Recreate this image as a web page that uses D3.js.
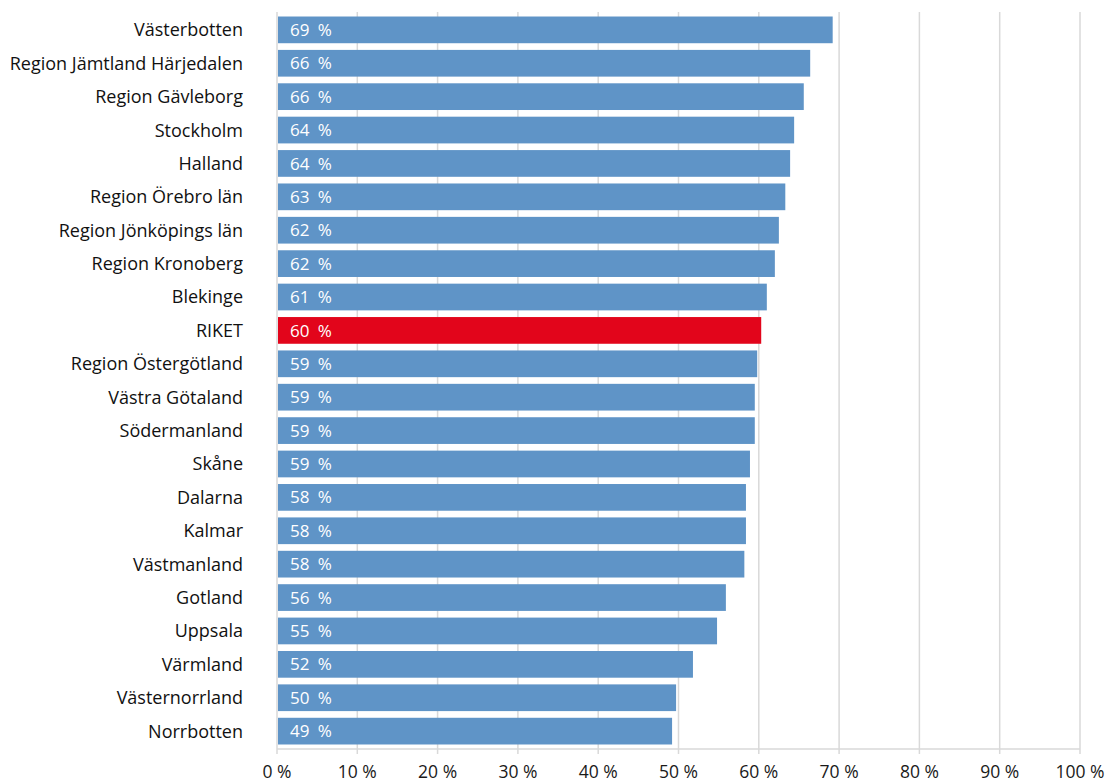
<!DOCTYPE html>
<html>
<head>
<meta charset="utf-8">
<script src="https://cdn.jsdelivr.net/npm/d3@7"></script>
<style>
  body { margin: 0; background: #fff; }
  text { font-family: "Open Sans", Lato, sans-serif; }
</style>
</head>
<body>
<svg width="1106" height="783"></svg>
<script>
// regions, top to bottom
var regions = ["Västerbotten", "Region Jämtland Härjedalen", "Region Gävleborg", "Stockholm",
  "Halland", "Region Örebro län", "Region Jönköpings län", "Region Kronoberg", "Blekinge",
  "RIKET", "Region Östergötland", "Västra Götaland", "Södermanland", "Skåne", "Dalarna",
  "Kalmar", "Västmanland", "Gotland", "Uppsala", "Värmland", "Västernorrland", "Norrbotten"];

// bar lengths
var shares = [69.2, 66.4, 65.6, 64.4, 63.9, 63.3, 62.5, 62.0, 61.0, 60.3, 59.8, 59.5, 59.5,
  58.9, 58.4, 58.4, 58.2, 55.9, 54.8, 51.8, 49.7, 49.2];

// printed labels
var shareLabels = [69, 66, 66, 64, 64, 63, 62, 62, 61, 60, 59, 59, 59, 59, 58, 58, 58, 56, 55, 52, 50, 49];

var highlight = "RIKET";
var xTicks = [0, 10, 20, 30, 40, 50, 60, 70, 80, 90, 100];

var svg = d3.select("svg"),
  margin = { top: 12, right: 26, bottom: 34, left: 277 },
  width = +svg.attr("width") - margin.left - margin.right,
  height = +svg.attr("height") - margin.top - margin.bottom,
  g = svg.append("g").attr("transform", "translate(" + margin.left + "," + margin.top + ")");

var x = d3.scaleLinear().domain([0, 100]).range([0, width]);
var y = d3.scaleBand().domain(regions).range([0, height]).paddingInner(0.2).paddingOuter(0.135);

// gridlines
g.selectAll(".grid")
  .data(xTicks)
  .enter().append("line")
  .attr("x1", function(d) { return x(d); })
  .attr("x2", function(d) { return x(d); })
  .attr("y1", 0)
  .attr("y2", height + 5)
  .attr("stroke", "#d9d9d9")
  .attr("stroke-width", 1.5);

// x axis
g.append("line")
  .attr("x1", 0).attr("x2", width)
  .attr("y1", height).attr("y2", height)
  .attr("stroke", "#d9d9d9").attr("stroke-width", 1.5);

g.selectAll(".tick-label")
  .data(xTicks)
  .enter().append("text")
  .attr("x", function(d) { return x(d); })
  .attr("y", height + 29)
  .attr("text-anchor", "middle")
  .attr("font-size", 17.5)
  .attr("fill", "#1a1a1a")
  .text(function(d) { return d + " %"; });

// bars
g.selectAll(".bar")
  .data(regions)
  .enter().append("rect")
  .attr("x", 1)
  .attr("y", function(d) { return y(d); })
  .attr("width", function(d, i) { return x(shares[i]) - 1; })
  .attr("height", y.bandwidth())
  .attr("fill", function(d) { return d === highlight ? "#e2051b" : "#5f94c7"; });

// value labels
g.selectAll(".val")
  .data(regions)
  .enter().append("text")
  .attr("x", 13)
  .attr("y", function(d) { return y(d) + y.bandwidth() / 2; })
  .attr("dy", "0.36em")
  .attr("font-size", 17)
  .attr("word-spacing", 4)
  .attr("fill", "#fff")
  .text(function(d, i) { return shareLabels[i] + " %"; });

// category labels
g.selectAll(".cat")
  .data(regions)
  .enter().append("text")
  .attr("x", -34)
  .attr("y", function(d) { return y(d) + y.bandwidth() / 2; })
  .attr("dy", "0.36em")
  .attr("text-anchor", "end")
  .attr("font-size", 18)
  .attr("fill", "#111")
  .text(function(d) { return d; });
</script>
</body>
</html>
